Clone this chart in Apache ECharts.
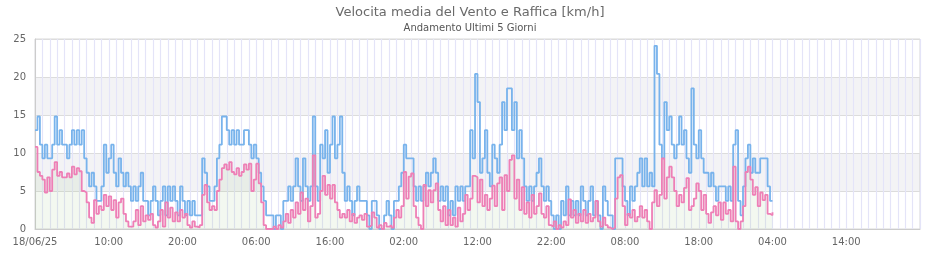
<!DOCTYPE html>
<html>
<head>
<meta charset="utf-8">
<script src="https://cdn.jsdelivr.net/npm/echarts@6/dist/echarts.min.js"></script>
<style>html,body{margin:0;padding:0;background:#fff}#c{width:940px;height:260px}</style>
</head>
<body>
<div id="c"></div>
<script>
// 20-minute samples, hours from 18/06/25 00:00
var titleText = 'Velocita media del Vento e Raffica [km/h]';
var subText = 'Andamento Ultimi 5 Giorni';
var startLabel = '18/06/25';
var yTicks = [0, 5, 10, 15, 20, 25];

var gustDay1 = [13.0,14.8,11.1, 9.3,11.1,9.3, 9.3,11.1,14.8, 11.1,13.0,11.1, 11.1,9.3,11.1, 13.0,11.1,13.0,
  11.1,13.0,9.3, 7.4,5.6,7.4, 5.6,3.7,3.7, 5.6,11.1,7.4, 9.3,11.1,7.4, 5.6,9.3,7.4,
  5.6,7.4,5.6, 3.7,5.6,3.7, 5.6,7.4,3.7, 3.7,1.8,3.7, 5.6,3.7,1.8, 3.7,5.6,1.8,
  5.6,3.7,5.6, 3.7,1.8,5.6, 3.7,1.8,3.7, 1.8,3.7,1.8, 1.8,1.8,9.3, 7.4,5.6,3.7];
var gustDay2 = [3.7,5.6,9.3, 11.1,14.8,14.8, 13.0,11.1,13.0, 11.1,13.0,11.1, 11.1,13.0,13.0, 11.1,9.3,11.1,
  9.3,7.4,5.6, 3.7,1.8,1.8, 1.8,0,1.8, 1.8,0,3.7, 3.7,5.6,3.7, 5.6,9.3,5.6,
  3.7,9.3,5.6, 3.7,5.6,14.8, 5.6,3.7,11.1, 9.3,13.0,7.4, 11.1,14.8,9.3, 11.1,14.8,7.4,
  3.7,5.6,3.7, 1.8,3.7,5.6, 3.7,3.7,3.7, 1.8,0,3.7, 3.7,1.8,0, 0,1.8,3.7];
var gustDay3 = [1.8,0,3.7, 3.7,5.6,7.4, 11.1,9.3,9.3, 9.3,5.6,3.7, 5.6,3.7,5.6, 7.4,5.6,7.4,
  9.3,7.4,3.7, 5.6,3.7,5.6, 1.8,3.7,1.8, 5.6,3.7,5.6, 3.7,5.6,5.6, 13.0,9.3,20.4,
  16.7,7.4,9.3, 13.0,7.4,5.6, 11.1,9.3,7.4, 11.1,16.7,13.0, 18.5,18.5,13.0, 16.7,9.3,13.0,
  9.3,5.6,3.7, 5.6,3.7,5.6, 7.4,9.3,5.6, 3.7,5.6,3.7, 1.8,0,1.8, 0,3.7,1.8];
var gustDay4 = [5.6,1.8,3.7, 1.8,3.7,1.8, 5.6,3.7,1.8, 3.7,5.6,1.8, 3.7,1.8,0, 5.6,3.7,1.8,
  1.8,0,9.3, 9.3,9.3,5.6, 3.7,1.8,5.6, 3.7,5.6,7.4, 9.3,5.6,9.3, 5.6,7.4,5.6,
  24.1,20.4,11.1, 9.3,16.7,13.0, 14.8,11.1,9.3, 11.1,14.8,11.1, 13.0,9.3,7.4, 18.5,11.1,9.3,
  13.0,9.3,7.4, 7.4,5.6,7.4, 5.6,3.7,5.6, 5.6,5.6,3.7, 5.6,3.7,11.1, 13.0,3.7,1.8];
var gustDay5 = [5.6,9.3,11.1, 7.4,9.3,7.4, 7.4,9.3,9.3, 9.3,5.6,3.7, 3.7];

var meanDay1 = [10.8,7.5,7.0, 6.5,4.8,6.8, 5.0,7.8,8.8, 7.0,7.5,6.8, 6.8,7.3,6.8, 8.2,7.2,8.0,
  7.6,5.0,4.8, 3.5,1.5,0.8, 3.8,2.0,3.0, 2.5,4.5,3.0, 4.3,2.5,3.8, 1.5,3.5,4.0,
  2.0,1.0,0.3, 0.3,1.0,2.5, 0.5,3.0,1.0, 1.8,1.2,2.0, 0.5,0.2,1.0, 2.5,0.3,3.5,
  1.5,2.8,1.0, 2.2,1.0,2.5, 1.5,2.0,0.5, 0.2,1.0,0.3, 0.2,0.5,4.5, 5.8,3.5,2.5];
var meanDay2 = [3.0,2.5,5.0, 6.5,8.0,8.5, 7.8,8.8,7.5, 7.2,8.0,7.0, 7.5,8.5,7.8, 8.6,5.0,6.5,
  8.6,6.0,3.5, 0.5,0,0, 0,0.3,0, 0.5,0.2,1.0, 2.0,0.8,2.5, 1.5,3.5,2.0,
  4.8,2.5,4.0, 1.0,3.0,9.7, 1.5,2.0,5.0, 7.0,4.5,5.8, 4.0,5.8,3.5, 2.5,1.5,2.0,
  1.5,2.5,1.0, 2.0,0.8,1.5, 1.8,1.2,2.0, 0.3,0.5,2.2, 1.5,0.2,0.5, 0,0.8,0.3];
var meanDay3 = [0.5,0.2,1.5, 2.5,1.5,3.0, 7.5,4.0,6.9, 7.3,3.0,1.5, 0.5,0,5.8, 3.0,5.1,3.5,
  5.1,6.0,2.5, 1.0,3.0,0.5, 2.5,0.5,1.5, 0.3,2.8,1.0, 2.0,4.5,2.5, 4.0,7.0,6.8,
  3.5,6.5,3.0, 4.5,2.5,4.0, 5.7,3.0,6.0, 6.8,2.5,7.1, 5.0,9.1,9.7, 4.0,6.5,2.5,
  5.5,2.0,3.5, 1.5,4.5,2.0, 3.0,4.7,2.0, 1.5,3.0,0.5, 0.3,1.0,0, 0.5,0.2,1.0];
var meanDay4 = [0.5,3.9,1.5, 2.5,0.8,2.0, 1.0,2.5,0.8, 2.0,1.0,1.5, 3.7,1.0,0.3, 1.5,0.5,0.2,
  0,0.2,4.0, 6.8,7.1,3.0, 0.5,2.0,1.5, 2.5,1.0,1.6, 3.0,1.5,2.5, 1.0,0,3.5,
  5.1,3.0,4.5, 9.3,4.0,6.8, 8.2,6.8,5.0, 3.0,4.5,3.5, 5.4,6.7,2.5, 3.0,4.0,6.0,
  5.0,2.5,4.5, 2.0,0.8,2.2, 3.0,1.8,3.5, 1.2,3.5,2.0, 2.5,1.0,8.2, 1.0,0,1.0];
var meanDay5 = [3.0,7.5,8.2, 6.5,4.5,5.5, 3.0,4.8,3.8, 4.5,2.0,1.8, 2.2];

var STEP_H = 1 / 3;
function toPoints(arr) { return arr.map(function (v, i) { return [i * STEP_H, v]; }); }
var gust = toPoints([].concat(gustDay1, gustDay2, gustDay3, gustDay4, gustDay5));
var mean = toPoints([].concat(meanDay1, meanDay2, meanDay3, meanDay4, meanDay5));

function pad(n) { return (n < 10 ? '0' : '') + n; }
var chart = echarts.init(document.getElementById('c'), null, { renderer: 'canvas' });
chart.setOption({
  animation: false,
  backgroundColor: '#fff',
  textStyle: { fontFamily: 'DejaVu Sans' },
  title: {
    text: titleText, subtext: subText, left: 'center', top: 1, itemGap: 4,
    textStyle: { fontSize: 13, fontWeight: 'normal', color: '#6a6a6a', fontFamily: 'DejaVu Sans' },
    subtextStyle: { fontSize: 10, color: '#555', fontFamily: 'DejaVu Sans' }
  },
  grid: { left: 35, right: 20, top: 39, bottom: 31, show: true, borderColor: '#d8d8d8', borderWidth: 1, backgroundColor: 'transparent' },
  xAxis: {
    type: 'value', min: 0, max: 120, interval: 10,
    axisLine: { lineStyle: { color: '#ccc' } },
    axisTick: { show: false },
    axisLabel: {
      color: '#666', fontSize: 10, margin: 8, showMaxLabel: false,
      formatter: function (v) {
        if (v === 0) return startLabel;
        if (v >= 120) return '';
        return pad(v % 24) + ':00';
      }
    },
    splitLine: { show: true, lineStyle: { color: '#e4e4f8', width: 1.2 } },
    minorTick: { show: false, splitNumber: 10 },
    minorSplitLine: { show: true, lineStyle: { color: '#e4e4f8', width: 1.2 } }
  },
  yAxis: {
    type: 'value', min: yTicks[0], max: yTicks[yTicks.length - 1], interval: 5,
    axisLine: { show: true, lineStyle: { color: '#ccc' } },
    axisTick: { show: false },
    axisLabel: { color: '#666', fontSize: 10, margin: 9 },
    splitLine: { lineStyle: { color: '#dcdcdc' } },
    splitArea: { show: true, areaStyle: { color: ['rgba(0,0,0,0)', 'rgba(20,20,60,0.05)'] } }
  },
  series: [
    {
      name: 'Raffica', type: 'line', step: 'end', data: gust, symbol: 'none', z: 2,
      lineStyle: { color: '#78b3ec', width: 1.8 }
    },
    {
      name: 'Velocita media', type: 'line', step: 'end', data: mean, symbol: 'none', z: 3,
      lineStyle: { color: '#ee7fb6', width: 1.8 },
      areaStyle: { color: 'rgba(150,195,125,0.16)' }
    }
  ]
});
</script>
</body>
</html>
